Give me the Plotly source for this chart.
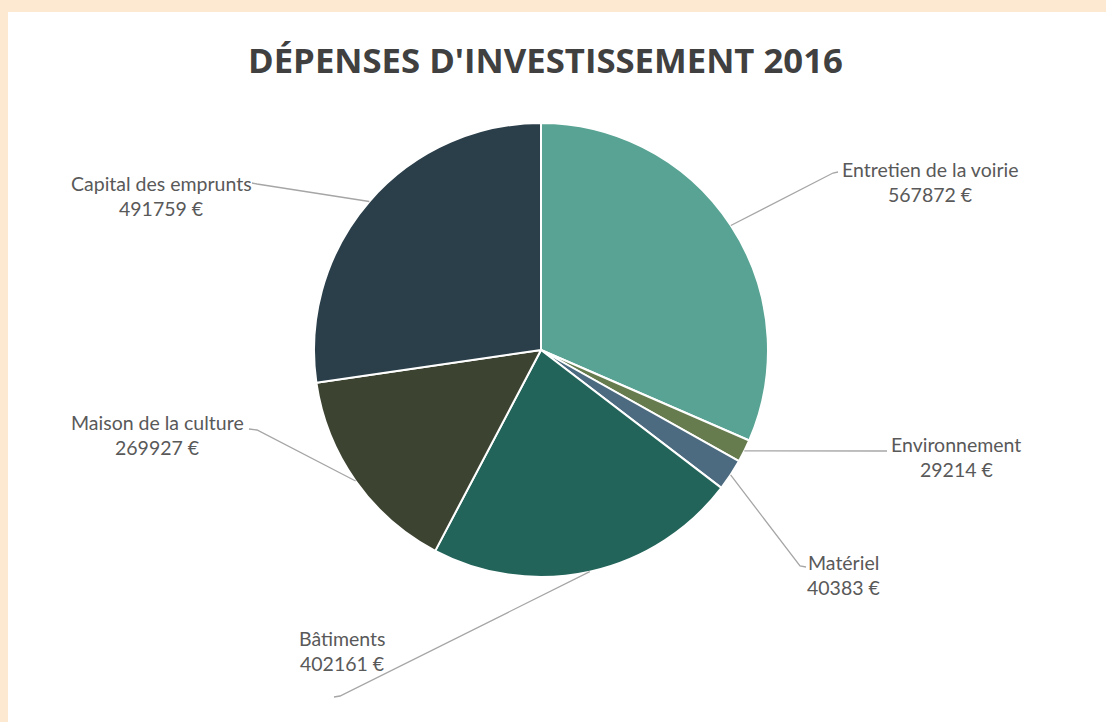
import math
import plotly.graph_objects as go

W, H = 1106, 722

categories = ["Entretien de la voirie", "Environnement", "Matériel",
              "Bâtiments", "Maison de la culture", "Capital des emprunts"]
values = [567872, 29214, 40383, 402161, 269927, 491759]
colors = ["#58A393", "#667C4F", "#4D6B80", "#22645A", "#3C4331", "#2B3F4A"]
value_labels = [f"{v} €" for v in values]

# layout (pixels)
cx, cy, R = 541, 350, 227
# label text centres (x, y of first line) and leader elbow / hook end
label_pos = [(930, 170), (956, 444), (843, 562), (342, 638), (157, 422), (161, 183)]
elbow = [(833, 173), (887, 451), (800, 566), (340, 696), (257, 430), (257, 184)]
hook = [(838, 172), (887, 451), (806, 567), (334, 697), (249, 429), (252, 183)]


def px(x):
    return x / W


def py(y):
    return 1 - y / H


fig = go.Figure(go.Pie(
    labels=categories,
    values=values,
    sort=False,
    direction="clockwise",
    rotation=0,
    marker=dict(colors=colors, line=dict(color="white", width=2)),
    textinfo="none",
    hoverinfo="label+value",
    showlegend=False,
    domain=dict(x=[px(cx - R), px(cx + R)], y=[py(cy + R), py(cy - R)]),
))

shapes = [dict(type="rect", xref="paper", yref="paper", x0=px(8), x1=1, y0=0, y1=py(12),
               fillcolor="white", line=dict(width=0), layer="below")]
annotations = []
total = sum(values)
cum = 0
for i, v in enumerate(values):
    mid = (cum + v / 2) / total * 2 * math.pi
    cum += v
    sx = cx + R * math.sin(mid)
    sy = cy - R * math.cos(mid)
    ex, ey = elbow[i]
    hx, hy = hook[i]
    path = f"M {px(sx)},{py(sy)} L {px(ex)},{py(ey)} L {px(hx)},{py(hy)}"
    shapes.append(dict(type="path", xref="paper", yref="paper", path=path,
                       line=dict(color="#A6A6A6", width=1.3)))
    lx, ly = label_pos[i]
    annotations.append(dict(text=categories[i], x=px(lx), y=py(ly), xref="paper", yref="paper",
                            showarrow=False, xanchor="center", yanchor="middle",
                            font=dict(family="Lato", size=19.5, color="#595959")))
    annotations.append(dict(text=value_labels[i], x=px(lx), y=py(ly + 25), xref="paper", yref="paper",
                            showarrow=False, xanchor="center", yanchor="middle",
                            font=dict(family="Lato", size=19.5, color="#595959")))

annotations.append(dict(text="<b>DÉPENSES D'INVESTISSEMENT 2016</b>", x=px(545), y=py(60),
                        xref="paper", yref="paper", showarrow=False,
                        xanchor="center", yanchor="middle",
                        font=dict(family="Open Sans", size=34.7, color="#404040")))

fig.update_layout(
    width=W, height=H,
    margin=dict(l=0, r=0, t=0, b=0),
    paper_bgcolor="#FDE8D2",
    plot_bgcolor="white",
    shapes=shapes,
    annotations=annotations,
)

fig.write_html("out.html", config={"displayModeBar": False},
               post_script="document.body.style.margin='0';")
